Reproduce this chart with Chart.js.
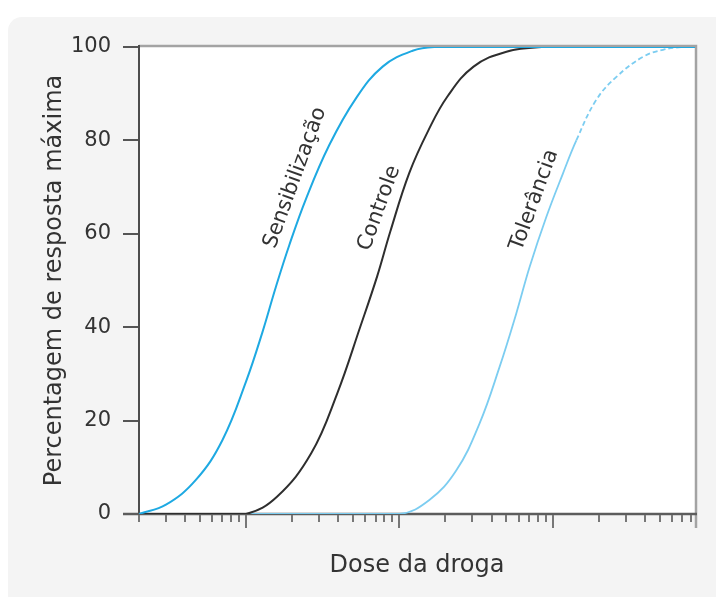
<!DOCTYPE html>
<html lang="pt">
<head>
<meta charset="UTF-8">
<title>Curvas dose-resposta</title>
<script src="https://cdn.jsdelivr.net/npm/chart.js@4.4.0/dist/chart.umd.min.js"></script>
<style>
  html, body { margin: 0; padding: 0; background: #fff; }
  #wrap { position: relative; width: 716px; height: 597px; overflow: hidden; }
  #panel { position: absolute; left: 8px; top: 17px; right: -20px; bottom: -20px; background: #f4f4f4; border-radius: 14px; }
  #chart { position: absolute; left: 0; top: 0; }
</style>
</head>
<body>
<div id="wrap">
  <div id="panel"></div>
  <canvas id="chart" width="716" height="597"></canvas>
</div>
<script>
// tick positions on the dose axis (log scale, no labels)
const doseTicks = [0.2, 0.3, 0.4, 0.5, 0.6, 0.7, 0.8, 0.9, 1,
                   2, 3, 4, 5, 6, 7, 8, 9, 10,
                   20, 30, 40, 50, 60, 70, 80, 90, 100,
                   200, 300, 400, 500, 600, 700, 800];

// Sensibilização
const sensDose = [0.2, 0.3, 0.47, 0.7, 1.0, 1.28, 1.56, 1.91, 2.46, 3.49, 5.21, 7.78, 12.2, 17, 40, 150, 850];
const sensPct  = [0,   2,   7.3,  15.8, 28.4, 39,  48.5, 57.5, 67.5, 79,   89,   95.8, 99.2, 100, 100, 100, 100];

// Controle
const ctrlDose = [0.2, 0.6, 1.0, 1.59, 2.66, 3.93, 5.56, 7.18, 8.73, 11.6, 15.5, 20.6, 30.5, 50, 85, 200, 850];
const ctrlPct  = [0,   0,   0,   3.7,  13,   25.8, 40.1, 51,   60.5, 73,   82.2, 89.4, 95.8, 99, 100, 100, 100];

// Tolerância
const tolDose = [0.2, 2, 10, 15.7, 23.5, 33.3, 45.1, 57.9, 70.8, 91,   116.8, 142.9, 193,  261,  389,  526,  700, 850];
const tolPct  = [0,   0, 0,  3,    9.3,  19.3, 31.5, 42.9, 52.9, 63.6, 72.9,  80,    88.7, 93.6, 97.9, 99.4, 100, 100];

const FONT = 'DejaVu Sans';
const TEXT = '#333';

function pts(xs, ys) { return xs.map((v, i) => ({ x: v, y: ys[i] })); }

// curve names written along the curves (anchored in data coordinates)
const curveLabels = [
  { text: 'Sensibilização', dose: 2.09, pct: 72 },
  { text: 'Controle',       dose: 7.4,  pct: 65.5 },
  { text: 'Tolerância',     dose: 76,   pct: 67.2 }
];

const plotFrame = {
  id: 'plotFrame',
  beforeDraw(chart) {
    const { ctx, chartArea: a } = chart;
    ctx.save();
    ctx.fillStyle = '#fff';
    ctx.fillRect(a.left, a.top, a.right - a.left, a.bottom - a.top);
    ctx.restore();
  },
  beforeDatasetsDraw(chart) {
    const { ctx, chartArea: a, scales: { x } } = chart;
    ctx.save();
    // top + right border
    ctx.strokeStyle = '#a3a3a3';
    ctx.lineWidth = 2.5;
    ctx.beginPath();
    ctx.moveTo(a.left, a.top - 1);
    ctx.lineTo(a.right + 1, a.top - 1);
    ctx.lineTo(a.right + 1, a.bottom + 14);
    ctx.stroke();
    // left axis
    ctx.strokeStyle = '#4d4d4d';
    ctx.lineWidth = 2;
    ctx.beginPath();
    ctx.moveTo(a.left, a.top - 2);
    ctx.lineTo(a.left, a.bottom);
    ctx.stroke();
    // bottom axis
    ctx.strokeStyle = '#5c5c5c';
    ctx.lineWidth = 2.5;
    ctx.beginPath();
    ctx.moveTo(a.left - 16, a.bottom);
    ctx.lineTo(a.right + 2, a.bottom);
    ctx.stroke();
    // x tick marks, decades longer
    ctx.strokeStyle = '#777';
    ctx.lineWidth = 2;
    doseTicks.forEach(v => {
      const px = Math.round(x.getPixelForValue(v));
      const major = Number.isInteger(Math.log10(v));
      ctx.beginPath();
      ctx.moveTo(px, a.bottom + 1);
      ctx.lineTo(px, a.bottom + (major ? 14 : 8));
      ctx.stroke();
    });
    ctx.restore();
  },
  afterDatasetsDraw(chart) {
    const { ctx, scales: { x, y } } = chart;
    ctx.save();
    ctx.font = '21px "' + FONT + '"';
    ctx.fillStyle = TEXT;
    ctx.textAlign = 'center';
    ctx.textBaseline = 'middle';
    curveLabels.forEach(l => {
      ctx.save();
      ctx.translate(x.getPixelForValue(l.dose), y.getPixelForValue(l.pct));
      ctx.rotate(-70 * Math.PI / 180);
      ctx.fillText(l.text, 0, 0);
      ctx.restore();
    });
    ctx.restore();
  }
};

const lineStyle = {
  borderWidth: 2,
  pointRadius: 0,
  tension: 0.4,
  fill: false
};

new Chart(document.getElementById('chart'), {
  type: 'line',
  data: {
    datasets: [
      { ...lineStyle, label: 'Sensibilização', data: pts(sensDose, sensPct), borderColor: '#1ea9e2' },
      { ...lineStyle, label: 'Controle', data: pts(ctrlDose, ctrlPct), borderColor: '#2e2e2e' },
      { ...lineStyle, label: 'Tolerância', data: pts(tolDose, tolPct), borderColor: '#7ccdf1', borderWidth: 1.8,
        segment: { borderDash: c => c.p0.parsed.y >= 80 ? [5, 3] : undefined } }
    ]
  },
  options: {
    responsive: false,
    animation: false,
    layout: { padding: { top: 47, right: 21, left: 0, bottom: 0 } },
    plugins: { legend: { display: false }, tooltip: { enabled: false } },
    scales: {
      x: {
        type: 'logarithmic',
        min: 0.2,
        max: 850,
        ticks: { display: false },
        grid: { display: false },
        border: { display: false },
        title: { display: true, text: 'Dose da droga', color: TEXT,
                 font: { family: FONT, size: 24 }, padding: { top: 0, bottom: 17 } },
        afterFit(s) { s.height = 83; }
      },
      y: {
        min: 0,
        max: 100,
        ticks: { stepSize: 20, color: TEXT, padding: 12, font: { family: FONT, size: 21 } },
        grid: { drawOnChartArea: false, drawTicks: true, tickLength: 16, color: '#555', lineWidth: 2 },
        border: { display: false },
        title: { display: true, text: 'Percentagem de resposta máxima', color: TEXT,
                 font: { family: FONT, size: 24 }, padding: { top: 40, bottom: 0 } },
        afterFit(s) { s.width = 139; }
      }
    }
  },
  plugins: [plotFrame]
});
</script>
</body>
</html>
